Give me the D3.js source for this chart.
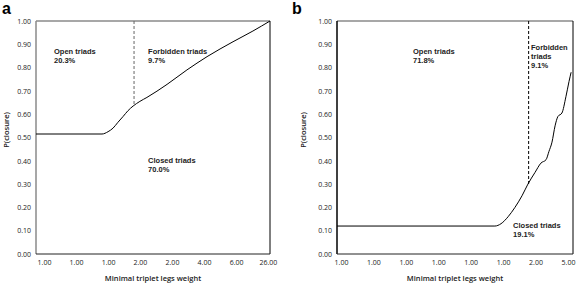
<!DOCTYPE html>
<html>
<head>
<meta charset="utf-8">
<script src="https://cdnjs.cloudflare.com/ajax/libs/d3/7.8.5/d3.min.js"></script>
<style>
  body { margin: 0; background: #fff; }
  text { font-family: "Open Sans", "Liberation Sans", sans-serif; fill: #222; }
  .tick text { font-size: 7px; }
  .note { font-family: "Liberation Sans", Arial, sans-serif; font-size: 7.5px; font-weight: bold; }
  .title { font-size: 7.5px; font-weight: 600; }
</style>
</head>
<body>
<div id="chart"></div>
<script>
// Y axis ticks (shared)
const yTicks = [0, 0.1, 0.2, 0.3, 0.4, 0.5, 0.6, 0.7, 0.8, 0.9, 1.0];

// Panel a: percentile of triplets vs P(closure)
const aPct = [0, 28.2, 30.8, 32.9, 35.0, 37.2, 39.3, 41.5, 44.4, 47.4, 56.0, 64.5, 73.1, 84.2, 92.7, 100];
const aVal = [0.515, 0.515, 0.525, 0.54, 0.565, 0.59, 0.615, 0.635, 0.655, 0.672, 0.728, 0.79, 0.847, 0.911, 0.957, 1.0];
const aTickPct = [3.4, 17.1, 30.8, 44.4, 58.1, 71.8, 85.5, 99.1];
const aTickLabels = ["1.00", "1.00", "1.00", "2.00", "2.00", "4.00", "6.00", "26.00"];
const aCut = {pct: 41.9, val: 0.64};
const aNotes = [
  {lines: ["Open triads", "20.3%"], pct: 7.7, val: 0.858},
  {lines: ["Forbidden triads", "9.7%"], pct: 47.9, val: 0.858},
  {lines: ["Closed triads", "70.0%"], pct: 47.9, val: 0.39}
];

// Panel b
const bPct = [0, 66.9, 69.5, 72.5, 75.4, 78.4, 80.9, 83.9, 86.4, 88.6, 89.8, 91.1, 92.4, 93.6, 95.3, 97.0, 98.3, 99.2];
const bVal = [0.12, 0.12, 0.13, 0.16, 0.2, 0.25, 0.30, 0.35, 0.39, 0.405, 0.44, 0.48, 0.55, 0.59, 0.605, 0.675, 0.74, 0.78];
const bTickPct = [1.7, 15.4, 29.2, 42.9, 56.6, 70.4, 84.1, 97.9];
const bTickLabels = ["1.00", "1.00", "1.00", "1.00", "1.00", "1.00", "2.00", "5.00"];
const bCut = {pct: 81.2, val: 0.30};
const bNotes = [
  {lines: ["Open triads", "71.8%"], pct: 32.2, val: 0.858},
  {lines: ["Forbidden", "triads", "9.1%"], pct: 82.2, val: 0.876},
  {lines: ["Closed triads", "19.1%"], pct: 74.6, val: 0.112}
];

const svg = d3.select("#chart")
  .append("svg")
    .attr("width", 576)
    .attr("height", 284);

function drawPanel(opt) {
  const x = d3.scaleLinear().domain([0, 100]).range([opt.left, opt.right]);
  const y = d3.scaleLinear().domain([0, 1]).range([254, 21]);
  const g = svg.append("g");

  // Y axis labels
  g.append("g")
    .attr("transform", `translate(${opt.left},0)`)
    .call(d3.axisLeft(y).tickValues(yTicks).tickFormat(d3.format(".2f")).tickSize(0).tickPadding(5))
    .call(a => a.select(".domain").remove());

  // X axis labels
  g.append("g")
    .attr("transform", `translate(0,254)`)
    .call(d3.axisBottom(x).tickValues(opt.ticks).tickFormat((d, i) => opt.labels[i]).tickSize(0).tickPadding(6))
    .call(a => a.select(".domain").remove());

  // Frame
  g.append("line").attr("x1", opt.left).attr("x2", opt.right).attr("y1", 21).attr("y2", 21)
    .attr("stroke", "#8a8a8a").attr("stroke-width", 1.5);
  g.append("line").attr("x1", opt.left).attr("x2", opt.left).attr("y1", 21).attr("y2", 254)
    .attr("stroke", opt.leftColor).attr("stroke-width", 1.5);
  g.append("line").attr("x1", opt.right).attr("x2", opt.right).attr("y1", 21).attr("y2", 254)
    .attr("stroke", "#000").attr("stroke-width", 1);
  g.append("line").attr("x1", opt.left).attr("x2", opt.right).attr("y1", 254).attr("y2", 254)
    .attr("stroke", "#222").attr("stroke-width", 1);

  // Threshold dashed line
  g.append("line")
    .attr("x1", x(opt.cut.pct)).attr("x2", x(opt.cut.pct))
    .attr("y1", y(1)).attr("y2", y(opt.cut.val))
    .attr("stroke", opt.cutColor).attr("stroke-width", 1)
    .attr("stroke-dasharray", "3,2");

  // Curve
  const line = d3.line()
    .x(d => x(d[0]))
    .y(d => y(d[1]))
    .curve(d3.curveMonotoneX);
  g.append("path")
    .datum(d3.zip(opt.pct, opt.val))
    .attr("fill", "none")
    .attr("stroke", "#000")
    .attr("stroke-width", 1)
    .attr("d", line);

  // Notes, one text per line
  opt.notes.forEach(n => {
    n.lines.forEach((s, i) => {
      g.append("text").attr("class", "note")
        .attr("x", x(n.pct))
        .attr("y", y(n.val) + i * 9)
        .text(s);
    });
  });

  // Axis titles
  g.append("text").attr("class", "title")
    .attr("text-anchor", "middle")
    .attr("x", (opt.left + opt.right) / 2)
    .attr("y", 281)
    .text("Minimal triplet legs weight");
  g.append("text").attr("class", "title")
    .attr("text-anchor", "middle")
    .attr("transform", `translate(${opt.ytitleX},130) rotate(-90)`)
    .text("P(closure)");

  // Panel letter
  svg.append("text")
    .attr("x", opt.letterX).attr("y", 14)
    .style("font-family", "Liberation Sans, Arial, sans-serif")
    .style("font-size", "16px").style("font-weight", "bold").style("fill", "#000")
    .text(opt.letter);
}

drawPanel({left: 36, right: 270, pct: aPct, val: aVal, ticks: aTickPct, labels: aTickLabels,
  cut: aCut, notes: aNotes, leftColor: "#8a8a8a", cutColor: "#666", ytitleX: 9, letter: "a", letterX: 2});
drawPanel({left: 337, right: 573, pct: bPct, val: bVal, ticks: bTickPct, labels: bTickLabels,
  cut: bCut, notes: bNotes, leftColor: "#000", cutColor: "#000", ytitleX: 306, letter: "b", letterX: 292});
</script>
</body>
</html>
